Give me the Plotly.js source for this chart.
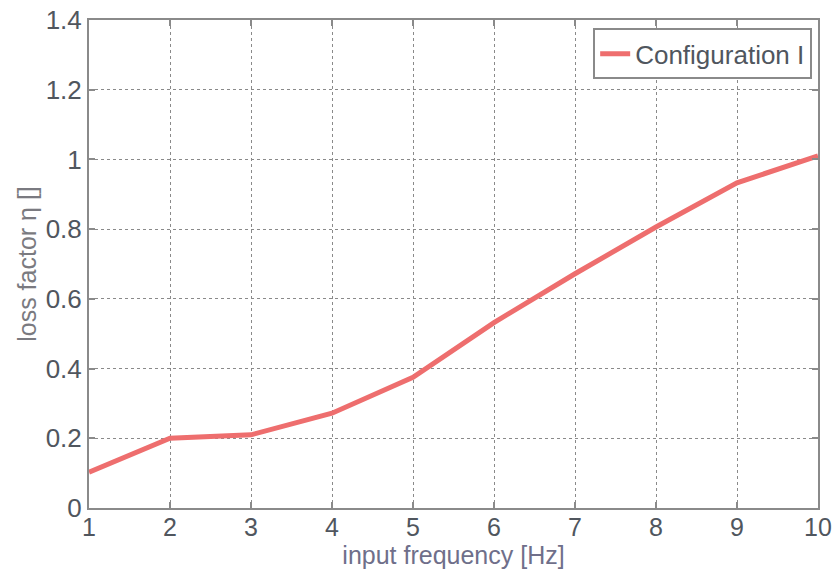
<!DOCTYPE html>
<html>
<head>
<meta charset="utf-8">
<script src="https://cdn.plot.ly/plotly-3.0.1.min.js"></script>
<style>html,body{margin:0;padding:0;background:#fff;}#chart{width:835px;height:573px;}</style>
</head>
<body>
<div id="chart"></div>
<script>
const frequency = [1, 2, 3, 4, 5, 6, 7, 8, 9, 10];
const lossFactor = [0.103, 0.200, 0.210, 0.272, 0.375, 0.532, 0.672, 0.806, 0.933, 1.010];
const seriesName = "Configuration I";
const yTicks = [0, 0.2, 0.4, 0.6, 0.8, 1, 1.2, 1.4];
const yTickText = ["0", "0.2", "0.4", "0.6", "0.8", "1", "1.2", "1.4"];
const xTicks = [1, 2, 3, 4, 5, 6, 7, 8, 9, 10];

const trace = {
  x: frequency, y: lossFactor, name: seriesName, type: 'scatter', mode: 'lines',
  line: {color: '#ee6e6e', width: 5}
};
const axisCommon = {
  showline: true, linecolor: '#8a8a8a', linewidth: 2, mirror: 'ticks',
  ticks: 'inside', ticklen: 6, tickcolor: '#8a8a8a', tickwidth: 2,
  showgrid: true, gridcolor: '#8a8a8a', gridwidth: 1, griddash: 'dot',
  zeroline: false, tickfont: {family: 'Liberation Sans, Arial', size: 26, color: '#50565e'}
};
const layout = {
  width: 835, height: 573,
  margin: {l: 89, r: 17, t: 20, b: 65},
  paper_bgcolor: '#fff', plot_bgcolor: '#fff',
  showlegend: true,
  legend: {x: 0.992, y: 0.983, xanchor: 'right', yanchor: 'top', bgcolor: '#fff',
    bordercolor: '#8a8a8a', borderwidth: 2,
    font: {family: 'Liberation Sans, Arial', size: 26, color: '#50565e'}},
  xaxis: Object.assign({}, axisCommon, {range: [1, 10], tickvals: xTicks,
    tickfont: {family: 'Liberation Sans, Arial', size: 25, color: '#50565e'},
    ticklabelstandoff: -4,
    title: {text: 'input frequency [Hz]', standoff: 2,
      font: {family: 'Liberation Sans, Arial', size: 25, color: '#6f6f8a'}}}),
  yaxis: Object.assign({}, axisCommon, {range: [0, 1.4], tickvals: yTicks, ticktext: yTickText,
    title: {text: 'loss factor η []', standoff: 2,
      font: {family: 'Liberation Sans, Arial', size: 25, color: '#7a7a80'}}})
};
Plotly.newPlot('chart', [trace], layout, {displayModeBar: false, staticPlot: true});
</script>
</body>
</html>
